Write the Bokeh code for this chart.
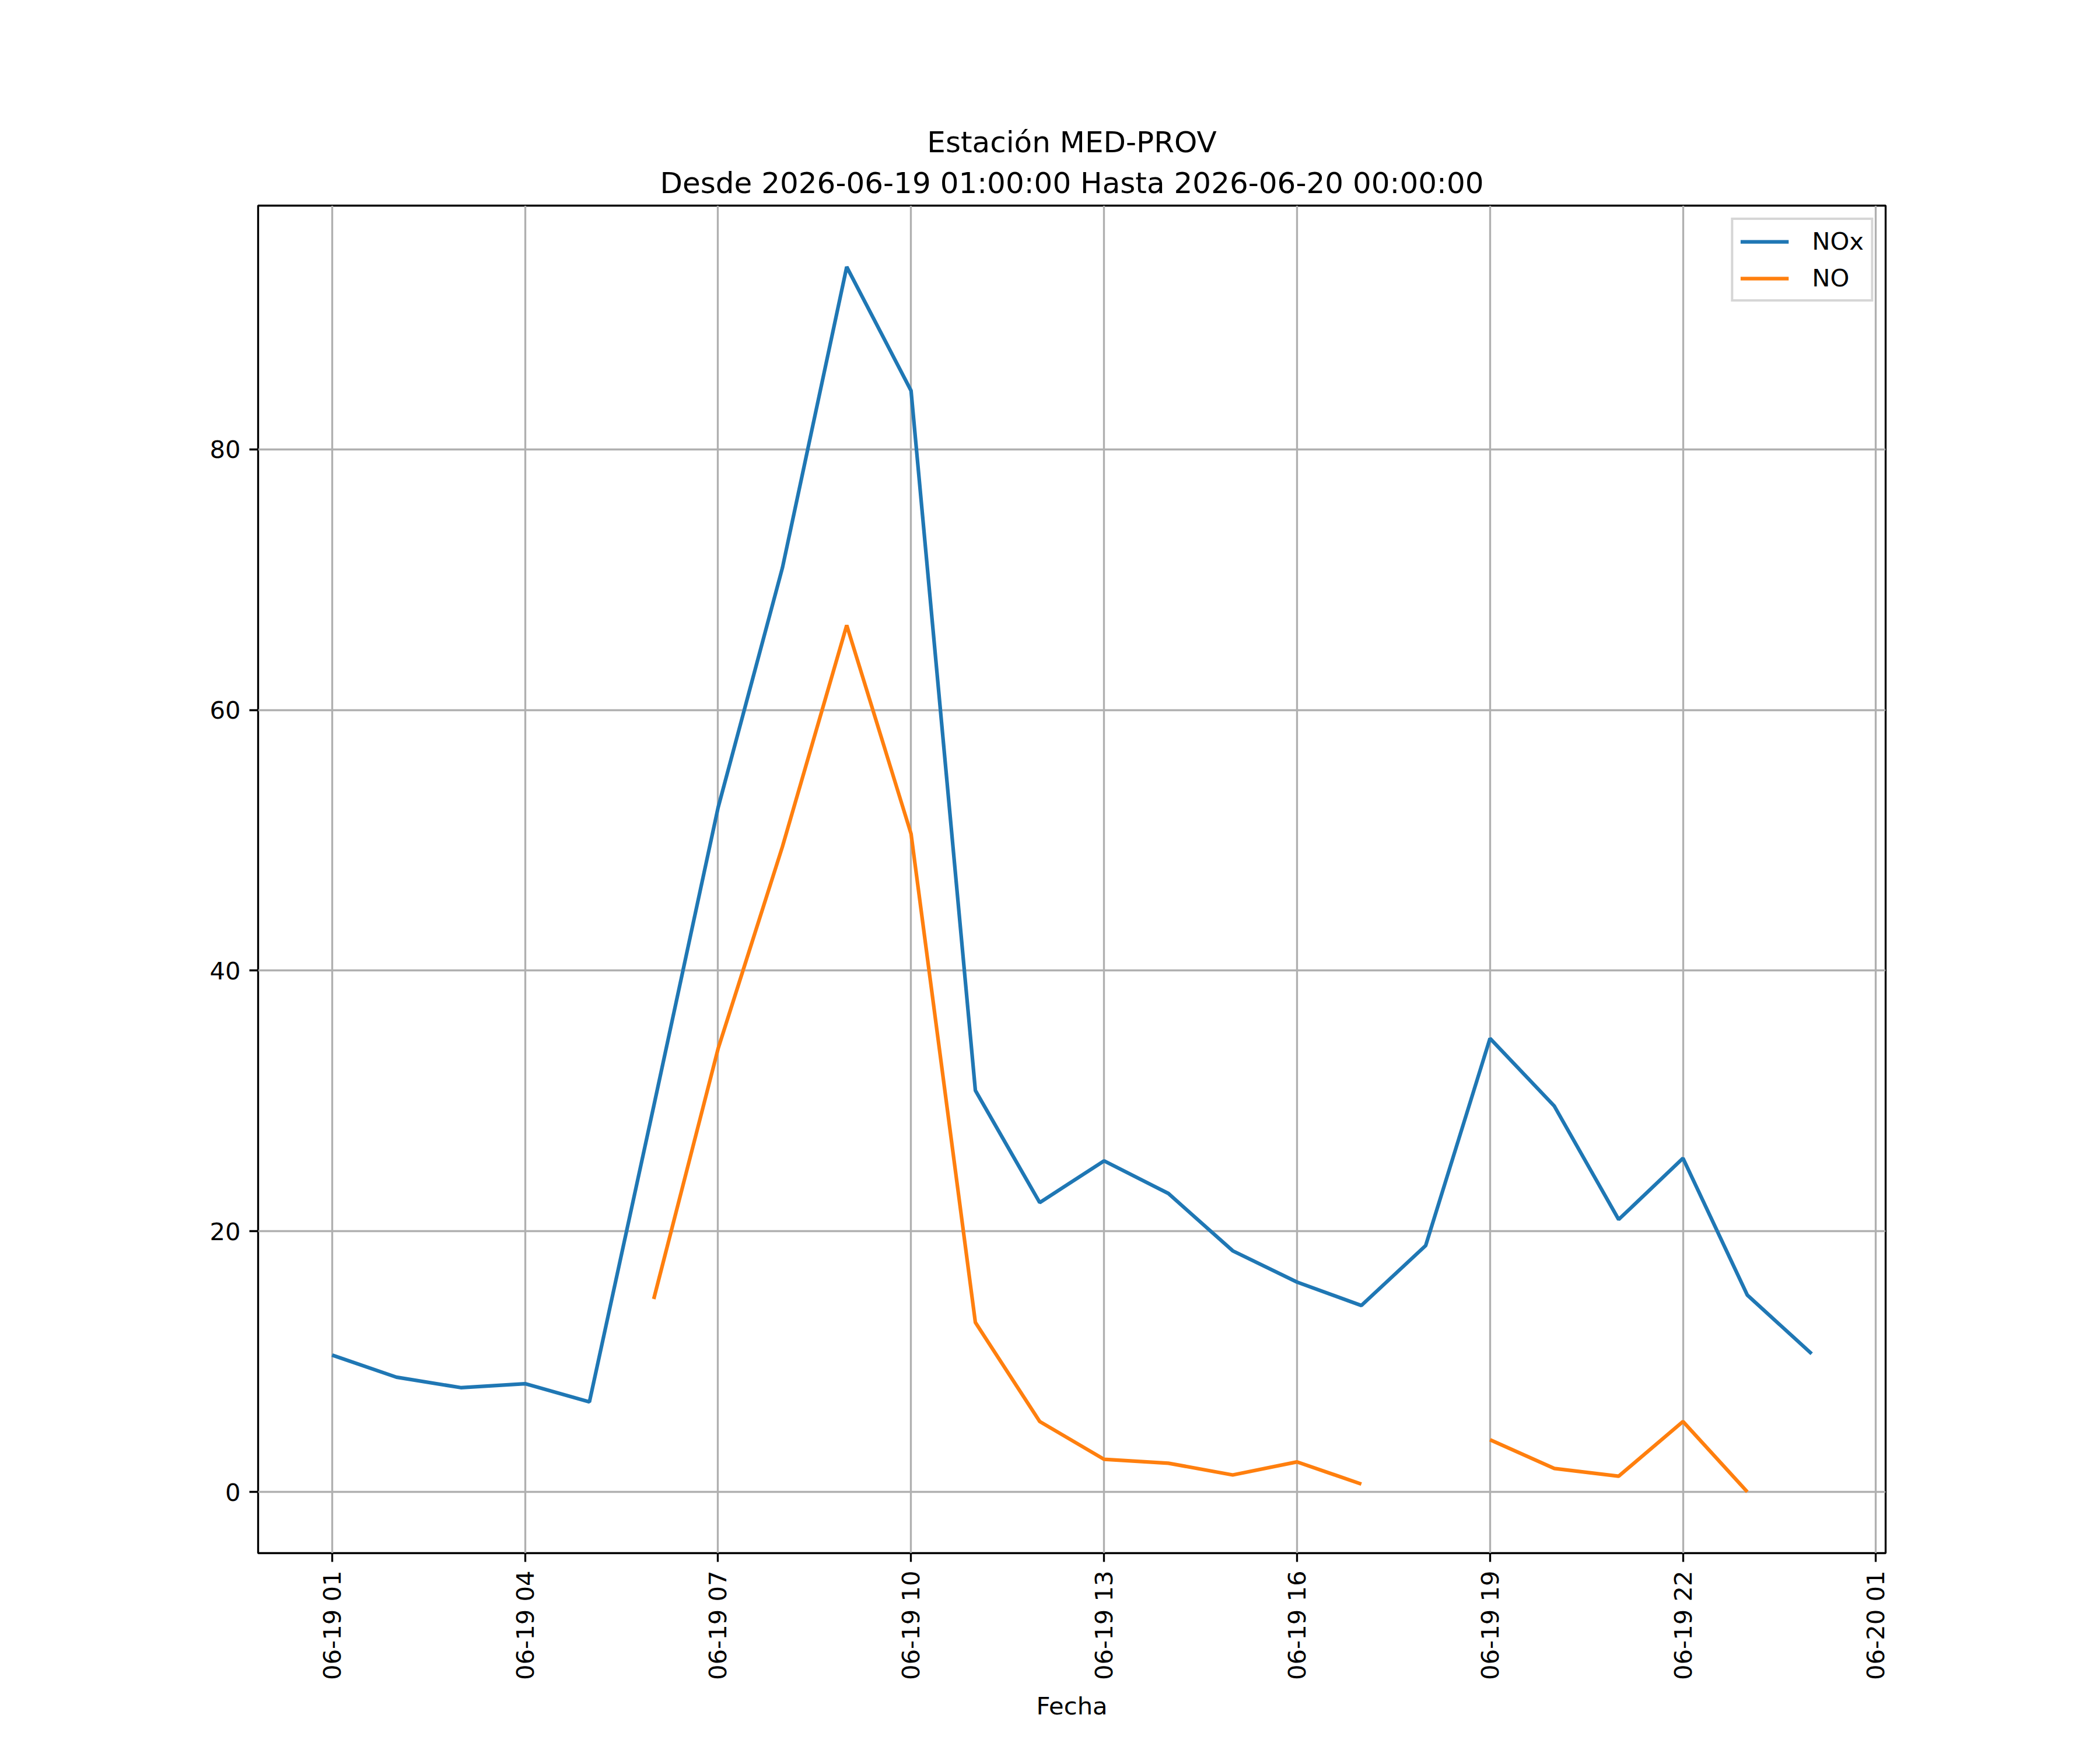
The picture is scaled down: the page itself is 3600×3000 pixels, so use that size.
import math
import pandas as pd
from bokeh.plotting import figure
from bokeh.models import (ColumnDataSource, FixedTicker, DatetimeTickFormatter,
                          Range1d, Title, Legend, LegendItem)
from bokeh.embed import file_html
from bokeh.resources import INLINE

nan = float("nan")

# ---- data ----
times = pd.date_range("2026-06-19 01:00", periods=24, freq="h")
nox = [10.5, 8.8, 8.0, 8.3, 6.9, 29.6, 52.5, 70.9, 94.0, 84.5, 30.8, 22.2,
       25.4, 22.9, 18.5, 16.1, 14.3, 18.9, 34.8, 29.6, 20.9, 25.6, 15.1, 10.6]
no = [nan, nan, nan, nan, nan, 14.8, 34.0, 49.5, 66.5, 50.5, 13.0, 5.4,
      2.5, 2.2, 1.3, 2.3, 0.6, nan, 4.0, 1.8, 1.2, 5.4, 0.0, nan]
series_names = ["NOx", "NO"]
series_colors = ["#1f77b4", "#ff7f0e"]
title_line1 = "Estación MED-PROV"
title_line2 = "Desde 2026-06-19 01:00:00 Hasta 2026-06-20 00:00:00"
x_label = "Fecha"
x_tick_times = pd.date_range("2026-06-19 01:00", periods=9, freq="3h")
y_ticks = [0, 20, 40, 60, 80]

FONT = "DejaVu Sans"
FS = "41.7px"

src = ColumnDataSource(data=dict(t=times, nox=nox, no=no))

# axis limits like matplotlib's 5% autoscale margins
t0 = times[0].value / 1e6
t1 = times[-1].value / 1e6
dx = 0.05 * (t1 - t0)
vals = [v for v in nox + no if not math.isnan(v)]
ymin, ymax = min(vals), max(vals)
dy = 0.05 * (ymax - ymin)

p = figure(x_axis_type="datetime", output_backend="svg", toolbar_location=None,
           frame_width=2790, frame_height=2310,
           min_border_left=442, min_border_right=352,
           min_border_top=352, min_border_bottom=322,
           x_range=Range1d(t0 - dx, t1 + dx), y_range=Range1d(ymin - dy, ymax + dy),
           background_fill_color="white", border_fill_color="white")

r1 = p.line("t", "nox", source=src, line_color=series_colors[0], line_width=6.25)
r2 = p.line("t", "no", source=src, line_color=series_colors[1], line_width=6.25)

# titles (first added sits closest to the frame)
title_kw = dict(align="center", text_font=FONT, text_font_size="50px",
                text_font_style="normal", text_color="black")
p.add_layout(Title(text=title_line2, standoff=20, text_line_height=0.85, **title_kw), "above")
p.add_layout(Title(text=title_line1, standoff=0, text_line_height=1.0, **title_kw), "above")

# outline box
p.outline_line_color = "black"
p.outline_line_width = 3.33
p.outline_line_alpha = 1.0

xticker = FixedTicker(ticks=[t.value / 1e6 for t in x_tick_times])
yticker = FixedTicker(ticks=y_ticks)
p.xaxis.ticker = xticker
p.yaxis.ticker = yticker
p.xgrid.ticker = xticker
p.ygrid.ticker = yticker
fmt = "%m-%d %H"
p.xaxis.formatter = DatetimeTickFormatter(milliseconds=fmt, seconds=fmt, minsec=fmt,
                                          minutes=fmt, hourmin=fmt, hours=fmt,
                                          days=fmt, months=fmt, years=fmt)
p.xaxis.major_label_orientation = math.pi / 2

for ax in (p.xaxis, p.yaxis):
    ax.axis_line_color = None
    ax.major_tick_line_color = "black"
    ax.major_tick_line_width = 3.33
    ax.major_tick_out = 15
    ax.major_tick_in = 0
    ax.minor_tick_line_color = None
    ax.major_label_text_font = FONT
    ax.major_label_text_font_size = FS
    ax.major_label_text_color = "black"
    ax.major_label_standoff = 15

p.xaxis.axis_label = x_label
p.xaxis.axis_label_text_font = FONT
p.xaxis.axis_label_text_font_size = FS
p.xaxis.axis_label_text_font_style = "normal"
p.xaxis.axis_label_text_color = "black"
p.xaxis.axis_label_standoff = 17

for g in (p.xgrid, p.ygrid):
    g.grid_line_color = "#b0b0b0"
    g.grid_line_width = 3.33

legend = Legend(items=[LegendItem(label=series_names[0], renderers=[r1]),
                       LegendItem(label=series_names[1], renderers=[r2])],
                location="top_right", margin=21, padding=12, spacing=14,
                glyph_width=83, glyph_height=42, label_standoff=40,
                label_height=42, label_text_font=FONT, label_text_font_size=FS,
                label_text_color="black", border_line_color="#d6d6d6",
                border_line_width=4, border_line_alpha=1.0,
                background_fill_color="white", background_fill_alpha=0.8)
p.add_layout(legend)

open("out.html", "w").write(file_html(p, INLINE))
